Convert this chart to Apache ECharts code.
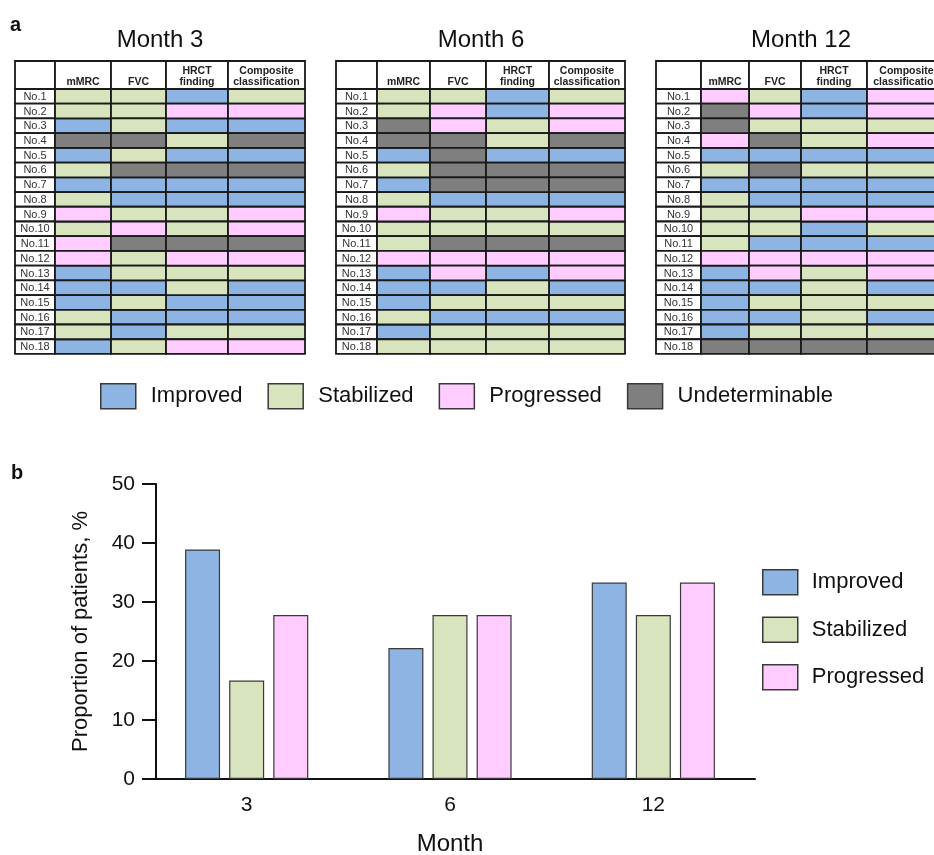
<!DOCTYPE html>
<html>
<head>
<meta charset="utf-8">
<title>Outcome classification by month</title>
<script src="https://cdn.jsdelivr.net/npm/echarts@6.0.0/dist/echarts.min.js"></script>
<style>
    html, body { margin: 0; padding: 0; background: #fff; }
    #chart { width: 934px; height: 855px; }
</style>
</head>
<body>
<div id="chart"></div>
<script>
// I = improved, S = stabilized, P = progressed, U = undeterminable
// columns: mMRC, FVC, HRCT finding, composite classification
var month3Status = ['SSIS', 'SSPP', 'ISII', 'UUSU', 'ISII', 'SUUU', 'IIII', 'SIII', 'PSSP',
    'SPSP', 'PUUU', 'PSPP', 'ISSS', 'IISI', 'ISII', 'SIII', 'SISS', 'ISPP'];
var month6Status = ['SSIS', 'SPIP', 'UPSP', 'UUSU', 'IUII', 'SUUU', 'IUUU', 'SIII', 'PSSP',
    'SSSS', 'SUUU', 'PPPP', 'IPIP', 'IISI', 'ISSS', 'SIII', 'ISSS', 'SSSS'];
var month12Status = ['PSIP', 'UPIP', 'USSS', 'PUSP', 'IIII', 'SUSS', 'IIII', 'SIII', 'SSPP',
    'SSIS', 'SIII', 'PPPP', 'IPSP', 'IISI', 'ISSS', 'IISI', 'ISSS', 'UUUU'];

var tableTitles = ['Month 3', 'Month 6', 'Month 12'];
var measureNames = ['mMRC', 'FVC', 'HRCT\nfinding', 'Composite\nclassification'];
var rowLabels = ['No.1', 'No.2', 'No.3', 'No.4', 'No.5', 'No.6', 'No.7', 'No.8', 'No.9',
    'No.10', 'No.11', 'No.12', 'No.13', 'No.14', 'No.15', 'No.16', 'No.17', 'No.18'];

var monthLabels = ['3', '6', '12'];
var improvedPct = [38.9, 22.2, 33.3];
var stabilizedPct = [16.7, 27.8, 27.8];
var progressedPct = [27.8, 27.8, 33.3];

var statusCodes = ['I', 'S', 'P', 'U'];
var statusNames = ['Improved', 'Stabilized', 'Progressed', 'Undeterminable'];

// styling / layout
var statusColors = ['#8db4e2', '#d7e4bd', '#ffccff', '#7f7f7f'];
var FONT = 'Arial, "Liberation Sans", Helvetica, sans-serif';
var tableLeft = [15, 336, 656];
var colEdges = [
    [0, 40, 96, 151, 213, 290],
    [0, 41, 94, 150, 213, 289],
    [0, 45, 93, 145, 211, 290]
];
var tableTop = 61;
var headerH = 28;
var rowH = 14.72;

var allStatus = [month3Status, month6Status, month12Status];

function cellRect(api, t, r, c) {
    // r = -1 is the header row, c = -1 is the row-label column
    var x0 = tableLeft[t] + colEdges[t][c + 1];
    var x1 = tableLeft[t] + colEdges[t][c + 2];
    var y0 = r < 0 ? tableTop : tableTop + headerH + r * rowH;
    var y1 = r < 0 ? tableTop + headerH : y0 + rowH;
    var p0 = api.coord([x0, y0]);
    var p1 = api.coord([x1, y1]);
    return { x: p0[0], y: p0[1], width: p1[0] - p0[0], height: p1[1] - p0[1] };
}

function renderStatusCell(params, api) {
    var rect = cellRect(api, api.value(0), api.value(1), api.value(2));
    return {
        type: 'rect',
        shape: rect,
        style: { fill: api.visual('color'), stroke: '#1a1a1a', lineWidth: 1.8 }
    };
}

function renderFrameCell(params, api) {
    var r = api.value(1);
    var c = api.value(2);
    var rect = cellRect(api, api.value(0), r, c);
    var children = [{
        type: 'rect',
        shape: rect,
        style: { fill: '#fff', stroke: '#1a1a1a', lineWidth: 1.8 }
    }];
    if (r < 0 && c >= 0) {
        children.push({
            type: 'text',
            style: {
                text: measureNames[c],
                x: rect.x + rect.width / 2,
                y: rect.y + rect.height - 1,
                align: 'center',
                verticalAlign: 'bottom',
                font: 'bold 10.5px ' + FONT,
                lineHeight: 11,
                fill: '#222'
            }
        });
    } else if (r >= 0) {
        children.push({
            type: 'text',
            style: {
                text: rowLabels[r],
                x: rect.x + rect.width / 2,
                y: rect.y + rect.height / 2 + 0.5,
                align: 'center',
                verticalAlign: 'middle',
                font: '11px ' + FONT,
                fill: '#333'
            }
        });
    }
    return { type: 'group', children: children };
}

var tableSeries = [];
statusCodes.forEach(function(code, k) {
    var data = [];
    allStatus.forEach(function(rows, t) {
        rows.forEach(function(row, r) {
            for (var c = 0; c < row.length; c++) {
                if (row.charAt(c) === code) {
                    data.push([t, r, c]);
                }
            }
        });
    });
    tableSeries.push({
        name: statusNames[k],
        type: 'custom',
        xAxisIndex: 0,
        yAxisIndex: 0,
        renderItem: renderStatusCell,
        itemStyle: { color: statusColors[k] },
        data: data,
        z: 3
    });
});

var frameData = [];
allStatus.forEach(function(rows, t) {
    for (var c = -1; c < measureNames.length; c++) {
        frameData.push([t, -1, c]);
    }
    rows.forEach(function(row, r) {
        frameData.push([t, r, -1]);
    });
});
tableSeries.push({
    name: 'frame',
    type: 'custom',
    xAxisIndex: 0,
    yAxisIndex: 0,
    renderItem: renderFrameCell,
    data: frameData,
    z: 2
});

var barSeries = [
    { name: 'Improved', data: improvedPct, color: statusColors[0] },
    { name: 'Stabilized', data: stabilizedPct, color: statusColors[1] },
    { name: 'Progressed', data: progressedPct, color: statusColors[2] }
].map(function(s) {
    return {
        name: s.name,
        type: 'bar',
        xAxisIndex: 1,
        yAxisIndex: 1,
        barWidth: 35,
        barGap: '26%',
        itemStyle: { color: s.color, borderColor: '#3a3a3a', borderWidth: 1.2 },
        data: s.data
    };
});

var graphicTexts = [
    { type: 'text', x: 10, y: 15, style: { text: 'a', font: 'bold 20px ' + FONT, fill: '#111' } },
    { type: 'text', x: 11, y: 463, style: { text: 'b', font: 'bold 20px ' + FONT, fill: '#111' } }
];
tableTitles.forEach(function(title, t) {
    graphicTexts.push({
        type: 'text',
        x: tableLeft[t] + 145,
        y: 40,
        style: { text: title, font: '24px ' + FONT, fill: '#111', align: 'center', verticalAlign: 'middle' }
    });
});

var chart = echarts.init(document.getElementById('chart'), null, { renderer: 'canvas' });
chart.setOption({
    animation: false,
    backgroundColor: '#fff',
    textStyle: { fontFamily: FONT },
    graphic: graphicTexts,
    legend: [
        {
            data: statusNames,
            left: 100,
            top: 383,
            padding: 0,
            orient: 'horizontal',
            icon: 'rect',
            itemWidth: 35,
            itemHeight: 25,
            itemGap: 25,
            selectedMode: false,
            itemStyle: { borderColor: '#3a3a3a', borderWidth: 1.5 },
            textStyle: { fontSize: 22, color: '#111', padding: [0, 0, 0, 10] }
        },
        {
            data: ['Improved', 'Stabilized', 'Progressed'],
            left: 762,
            top: 569,
            padding: 0,
            orient: 'vertical',
            icon: 'rect',
            itemWidth: 35,
            itemHeight: 25,
            itemGap: 21,
            selectedMode: false,
            itemStyle: { borderColor: '#3a3a3a', borderWidth: 1.5 },
            textStyle: { fontSize: 22, color: '#111', padding: [0, 0, 0, 9] }
        }
    ],
    grid: [
        { left: 0, top: 0, width: 934, height: 400, outerBoundsMode: 'none' },
        { left: 145, top: 484, width: 610, height: 295, outerBoundsMode: 'none' }
    ],
    xAxis: [
        { gridIndex: 0, type: 'value', min: 0, max: 934, show: false },
        {
            gridIndex: 1,
            type: 'category',
            data: monthLabels,
            name: 'Month',
            nameLocation: 'middle',
            nameGap: 53,
            nameTextStyle: { fontSize: 24, color: '#111' },
            axisLine: { lineStyle: { color: '#111', width: 2 } },
            axisTick: { inside: true, length: 5, lineStyle: { color: '#111', width: 2 } },
            axisLabel: { fontSize: 21, color: '#111', margin: 16 },
            splitLine: { show: false }
        }
    ],
    yAxis: [
        { gridIndex: 0, type: 'value', min: 0, max: 400, inverse: true, show: false },
        {
            gridIndex: 1,
            type: 'value',
            min: 0,
            max: 50,
            interval: 10,
            offset: -11,
            name: 'Proportion of patients, %',
            nameLocation: 'middle',
            nameGap: 64,
            nameTextStyle: { fontSize: 22, color: '#111' },
            axisLine: { show: true, lineStyle: { color: '#111', width: 2 } },
            axisTick: { show: true, length: 14, lineStyle: { color: '#111', width: 2 } },
            axisLabel: { fontSize: 21, color: '#111', margin: 21 },
            splitLine: { show: false }
        }
    ],
    series: tableSeries.concat(barSeries)
});
</script>
</body>
</html>
